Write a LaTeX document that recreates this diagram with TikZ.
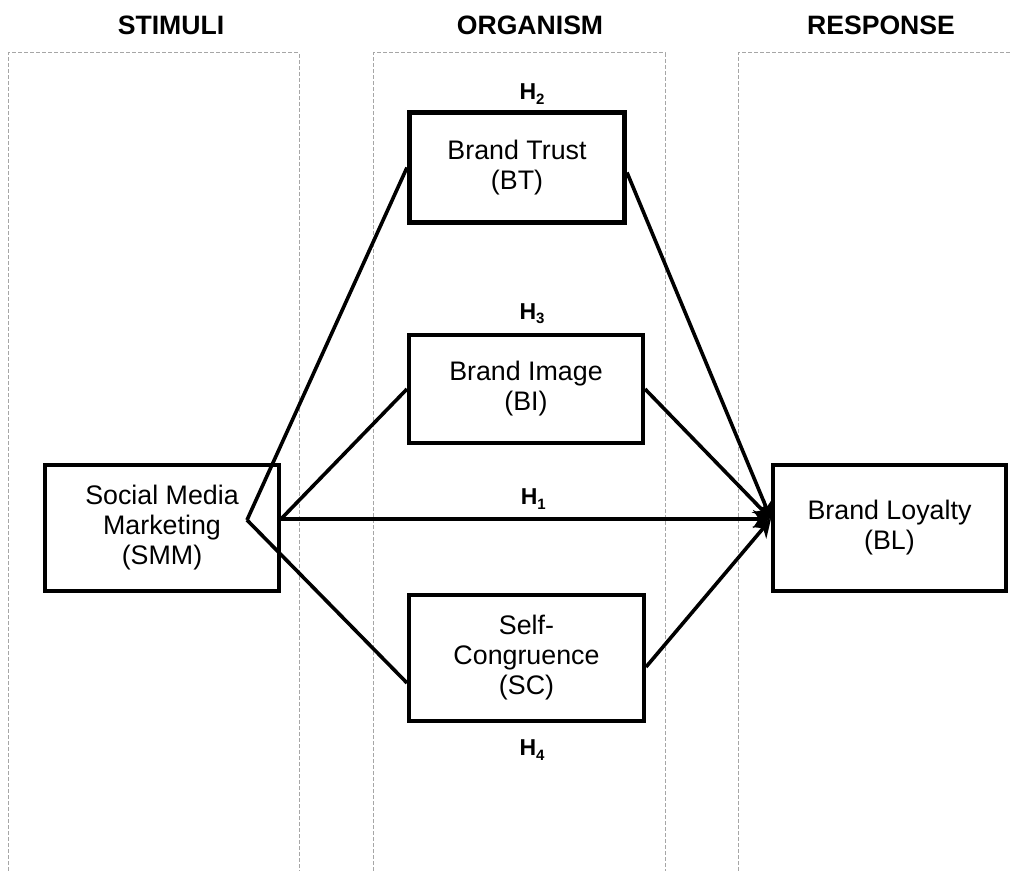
\documentclass[tikz,border=0pt]{standalone}
\usepackage{fontspec}
\setmainfont{Liberation Sans}
\usetikzlibrary{arrows.meta, positioning, calc}
\newcommand{\hypo}[1]{\textbf{H\raisebox{-0.35ex}{\fontsize{7.5}{8}\selectfont #1}}}

\begin{document}
\begin{tikzpicture}[x=0.5pt,y=-0.5pt,>={Stealth[length=9pt,width=9pt]},
        construct/.style={draw,line width=2pt,align=center,inner sep=0pt,
            font=\fontsize{13.4}{15}\selectfont},
        panel/.style={draw=gray!70,line width=0.5pt,dash pattern=on 2pt off 1pt},
        heading/.style={font=\fontsize{13.3}{15}\selectfont\bfseries},
        hyp/.style={font=\fontsize{11.5}{13}\selectfont,inner sep=1pt},
        link/.style={line width=1.8pt}]

    \useasboundingbox (0,0) rectangle (1012,871);

    % S-O-R panels
    \draw[panel] (8,871) -- (8,53) -- (299,53) -- (299,871);
    \draw[panel] (373,871) -- (373,53) -- (665,53) -- (665,871);
    \draw[panel] (738,871) -- (738,53) -- (1012,53);
    \node[heading] (stim) at (171,25) {STIMULI};
    \node[heading] (org)  at (530,25) {ORGANISM};
    \node[heading] (resp) at (881,25) {RESPONSE};

    % constructs
    \node[construct,minimum width=117pt,minimum height=63pt] (smm) at (162,528)
        {Social Media\\Marketing\\(SMM)};
    \node[construct,line width=2.6pt,minimum width=107.4pt,minimum height=54.9pt] (bt) at (517,167.5)
        {Brand Trust\\(BT)};
    \node[construct,minimum width=117pt,minimum height=54pt] (bi) at (526,389)
        {Brand Image\\(BI)};
    \node[construct,minimum width=117.5pt,minimum height=63pt] (sc) at (526.5,658)
        {Self-\\Congruence\\(SC)};
    \node[construct,minimum width=116.5pt,minimum height=63pt] (bl) at (889.5,528)
        {Brand Loyalty\\(BL)};

    \node[hyp] (h2) at (532,94)  {\hypo{2}};
    \node[hyp] (h3) at (532,314) {\hypo{3}};
    \node[hyp] (h4) at (532,750) {\hypo{4}};

    \coordinate (smmjoin) at (247,520);
    \coordinate (smmout)  at (281,519);
    \coordinate (blin)    at (771,519);

    \path[link] (smmjoin) edge (bt.west)
                (smmjoin) edge ($(sc.west)+(0,25)$)
                (smmout)  edge (bi.west);
    \path[->,link] (smmout) edge node[hyp,above=3pt,pos=0.515] {\hypo{1}} (blin)
                   ($(bt.east)+(0,5)$) edge (blin)
                   (bi.east) edge (blin)
                   ($(sc.east)+(0,9)$) edge (blin);
\end{tikzpicture}
\end{document}
